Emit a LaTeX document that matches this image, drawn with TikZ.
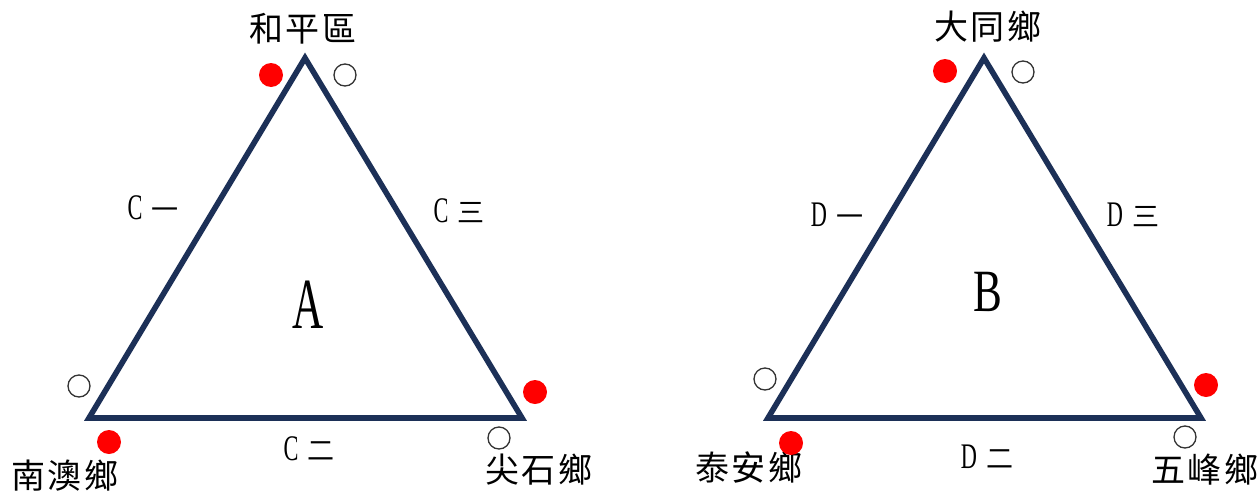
\documentclass[tikz,border=0pt]{standalone}
\usepackage{fontspec}
\newfontfamily\cjk{Noto Sans CJK TC}
\newfontfamily\cjksp{Noto Sans CJK TC}[LetterSpace=8]
\newfontfamily\latserif{Liberation Serif}
\definecolor{navy}{HTML}{1C3057}
\definecolor{dotred}{HTML}{FF0000}
\newcommand{\edgelab}[2]{\scalebox{0.62}[1]{\fontsize{36}{40}\selectfont\latserif #1}\hspace{9pt}{\fontsize{27}{30}\selectfont\cjk #2}}
\tikzset{
  tri/.style={draw=navy, line width=5.6pt, line join=miter},
  place/.style={font=\fontsize{34}{38}\selectfont\cjksp, inner sep=0pt},
  elab/.style={inner sep=0pt},
  reddot/.style={circle, fill=dotred, minimum size=24pt, inner sep=0pt},
  opendot/.style={circle, draw=black!80, line width=1.3pt, fill=white, minimum size=22pt, inner sep=0pt},
  big/.style={inner sep=0pt}
}
\begin{document}
\begin{tikzpicture}[x=1pt,y=-1pt]
\useasboundingbox[fill=white] (0,0) rectangle (1259,493);
% Triangle A
\coordinate (a1) at (305,58);
\coordinate (a2) at (89,418);
\coordinate (a3) at (522,418);
\draw[tri] (a1) -- (a2) -- (a3) -- cycle;
% Triangle B
\coordinate (b1) at (984,58);
\coordinate (b2) at (768,418);
\coordinate (b3) at (1201,418);
\draw[tri] (b1) -- (b2) -- (b3) -- cycle;
% Place names A
\node[place] (hp) at (303,29) {和平區};
\node[place] (na) at (65,476) {南澳鄉};
\node[place] (js) at (539,470) {尖石鄉};
% Place names B
\node[place] (dt) at (988,27) {大同鄉};
\node[place] (ta) at (749,468) {泰安鄉};
\node[place] (wf) at (1205,470) {五峰鄉};
% Edge labels
\node[elab] (c1) at (153,208) {\edgelab{C}{一}};
\node[elab] (c3) at (459,211) {\edgelab{C}{三}};
\node[elab] (c2) at (309,449) {\edgelab{C}{二}};
\node[elab] (d1) at (837,215) {\edgelab{D}{一}};
\node[elab] (d3) at (1133,215) {\edgelab{D}{三}};
\node[elab] (d2) at (987,457) {\edgelab{D}{二}};
% Big letters
\node[big] (bigA) at (308,305) {\scalebox{0.6}[1]{\fontsize{72}{80}\selectfont\latserif A}};
\node[big] (bigB) at (988,292) {\scalebox{0.72}[1]{\fontsize{60}{70}\selectfont\latserif B}};
% Dots A
\node[reddot] (ra1) at (271,75) {};
\node[opendot] (oa1) at (345,75) {};
\node[opendot] (oa2) at (79,386) {};
\node[reddot] (ra2) at (109,442) {};
\node[reddot] (ra3) at (535,392) {};
\node[opendot] (oa3) at (499,438) {};
% Dots B
\node[reddot] (rb1) at (945,71) {};
\node[opendot] (ob1) at (1023,72) {};
\node[opendot] (ob2) at (765,379) {};
\node[reddot] (rb2) at (791,443) {};
\node[reddot] (rb3) at (1206,385) {};
\node[opendot] (ob3) at (1185,437) {};
\end{tikzpicture}
\end{document}
